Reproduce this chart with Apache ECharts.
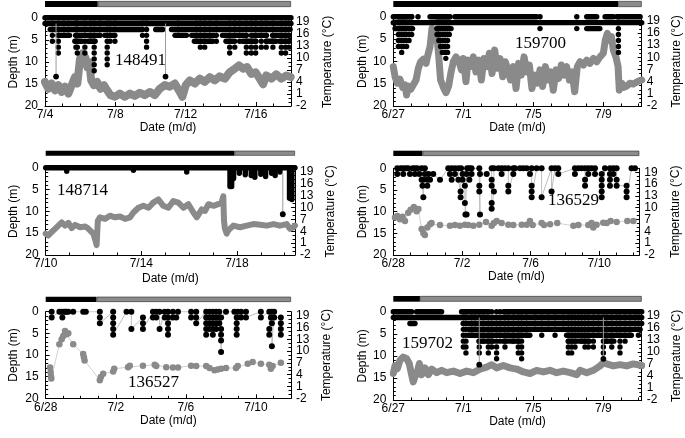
<!DOCTYPE html>
<html><head><meta charset="utf-8">
<script src="https://cdn.jsdelivr.net/npm/echarts@6/dist/echarts.min.js"></script>
<style>html,body{margin:0;padding:0;background:#fff}#c{width:685px;height:438px}</style>
</head><body><div id="c"></div>
<script>
// ---------- DATA (x = days since panel start date, depth in m, temperature in °C) ----------
const TAG_IDS = ['148491','159700','148714','136529','136527','159702'];
const START_DATES = [[7,4],[6,27],[7,10],[6,28],[6,28],[6,27]];
const X_MAX = [14, 14.19, 10.43, 14.33, 14, 14.19];
const DARK_DAYS = [3.0, 12.84, 7.9, 1.7, 2.9, 1.52]; // length of black part of top bar
const DEPTH_STEP = 1.333; // depth resolution of the tags

// Panel 1 – 148491
const P1_TEMP = [[0,4.0],[0.19,2.3],[0.38,3.6],[0.57,1.9],[0.76,3.2],[0.95,1.5],[1.14,2.8],[1.33,1.1],[1.52,3.2],[1.70,5.2],[1.84,3.6],[1.99,9.7],[2.14,11.1],[2.29,10.1],[2.41,7.7],[2.52,8.9],[2.63,4.4],[2.78,3.2],[2.97,4.0],[3.16,2.3],[3.35,3.2],[3.54,1.9],[3.73,0.7],[3.98,0.3],[4.26,1.1],[4.55,0.3],[4.83,1.1],[5.11,0.5],[5.40,1.3],[5.68,0.7],[5.97,1.5],[6.25,0.7],[6.53,2.3],[6.82,3.2],[7.10,2.8],[7.39,3.6],[7.67,1.5],[7.82,0.3],[8.01,3.2],[8.24,4.4],[8.52,3.6],[8.81,4.8],[9.09,4.0],[9.38,5.2],[9.66,4.4],[9.94,5.4],[10.23,4.8],[10.51,6.4],[10.80,7.3],[11.04,8.1],[11.27,7.3],[11.50,7.7],[11.74,6.0],[11.99,6.4],[12.22,4.8],[12.41,3.4],[12.59,5.6],[12.88,4.8],[13.16,5.9],[13.45,4.8],[13.73,5.6],[13.98,5.2]];
const P1_ROWS = [[0,14,0],[0,14,1.33],[0.3,5.5,2.67],[6.3,6.7,2.67],[7.2,13.95,2.67],[0.75,1.4,4],[1.75,2.35,4],[2.45,3.1,4],[3.4,3.9,4],[7.4,8.05,4],[8.35,9.65,4],[10.1,11.45,4],[11.85,12.6,4],[12.95,13.9,4],[1.7,2.1,5.33],[2.45,2.85,5.33],[8.5,9.55,5.33],[10.3,10.7,5.33],[11.25,12.0,5.33],[12.6,13.15,5.33],[13.35,13.9,5.33]];
const P1_COLS = [[0.42,5.33],[0.76,8],[1.08,4],[1.33,4],[1.76,6.67],[1.84,8],[2.27,8],[2.6,5.33],[2.8,12],[3.13,4],[3.54,10.67],[3.7,5.33],[3.98,5.33],[5.55,4],[5.78,6.67],[7.58,4],[8.62,5.33],[8.84,6.67],[9.09,6.67],[9.38,5.33],[9.75,5.33],[10.51,8],[10.8,6.67],[11.08,5.33],[11.46,8],[11.74,8],[11.99,8],[12.31,6.67],[12.59,6.67],[12.97,6.67],[13.45,8],[13.69,8],[13.88,6.67]];
const P1_SPIKES = [[0.63,13.33],[6.86,13.33]];

// Panel 2 – 159700
const P2_TEMP = [[0,7.7],[0.1,5.2],[0.23,3.6],[0.38,4.6],[0.53,2.6],[0.67,3.2],[0.76,0.7],[0.86,2.9],[0.99,2.1],[1.14,3.2],[1.3,4.4],[1.43,7.3],[1.56,8.9],[1.71,9.5],[1.87,8.5],[2.0,11.0],[2.1,12.6],[2.21,17.1],[2.34,14.9],[2.48,15.9],[2.59,10.6],[2.7,4.4],[2.86,2.6],[3.01,1.3],[3.16,2.9],[3.3,6.4],[3.43,8.9],[3.58,10.1],[3.73,9.3],[3.89,6.9],[4.0,9.7],[4.15,4.0],[4.27,9.3],[4.42,7.7],[4.57,10.1],[4.72,6.4],[4.88,9.3],[5.03,4.4],[5.18,9.7],[5.33,7.7],[5.49,11.0],[5.64,6.0],[5.79,11.8],[5.94,7.3],[6.1,9.7],[6.25,5.2],[6.4,8.9],[6.55,6.9],[6.7,4.4],[6.86,7.7],[7.01,2.3],[7.16,8.5],[7.31,5.6],[7.47,10.1],[7.62,6.4],[7.77,8.1],[7.92,2.3],[8.08,5.6],[8.23,3.6],[8.38,6.9],[8.53,2.8],[8.69,7.7],[8.84,4.4],[8.99,6.4],[9.14,1.9],[9.3,6.9],[9.45,4.8],[9.6,8.1],[9.75,5.6],[9.9,7.7],[10.06,4.4],[10.21,6.4],[10.36,1.5],[10.51,7.7],[10.67,8.9],[10.86,8.1],[11.05,9.3],[11.24,8.5],[11.43,9.7],[11.62,8.9],[11.81,10.1],[12.0,11.0],[12.11,14.2],[12.23,15.9],[12.34,14.2],[12.46,15.1],[12.57,11.8],[12.72,10.1],[12.84,7.7],[12.91,1.9],[13.05,3.6],[13.18,2.6],[13.33,2.9],[13.52,3.6],[13.71,3.4],[13.94,4.0],[14.19,4.4]];
const P2_ROWS = [[0,1.05,0],[1.41,1.41,0],[2.1,3.24,0],[3.52,8.19,0],[8.38,8.38,0],[10.48,10.48,0],[11.05,11.62,0],[12.1,12.57,0],[12.76,14.1,0],[0,14.19,1.33],[0.1,1.1,2.67],[2.5,3.3,2.67],[8.38,8.38,2.67],[10.48,10.48,2.67],[11.05,11.8,2.67]];
const P2_COLS = [[0.29,6.67],[0.38,5.33],[0.48,8],[0.57,6.67],[0.67,5.33],[0.76,6.67],[0.9,5.33],[1.05,4],[2.5,4],[2.6,5.33],[2.7,6.67],[2.8,8],[2.9,8],[3.0,9.33],[3.1,8],[3.2,4],[12.86,8]];
const P2_SPIKES = [];

// Panel 3 – 148714
const P3_TEMP = [[0,3.4],[0.11,2.9],[0.25,3.8],[0.39,4.6],[0.53,5.4],[0.67,6.2],[0.81,5.4],[0.95,6.1],[1.09,4.8],[1.23,5.6],[1.44,5.0],[1.65,5.2],[1.79,4.6],[1.85,4.2],[1.99,3.4],[2.08,1.7],[2.13,0.5],[2.18,6.6],[2.27,7.5],[2.48,7.1],[2.69,7.9],[2.9,7.5],[3.11,7.7],[3.32,7.1],[3.53,7.5],[3.67,8.7],[3.88,9.9],[4.09,10.4],[4.3,9.9],[4.5,11.2],[4.71,12.0],[4.92,10.4],[5.13,9.9],[5.34,11.6],[5.55,11.2],[5.76,9.9],[5.97,10.8],[6.18,8.7],[6.32,7.5],[6.39,7.1],[6.53,9.5],[6.67,9.1],[6.81,10.8],[7.02,10.4],[7.22,10.8],[7.36,11.2],[7.43,12.8],[7.46,6.6],[7.5,4.6],[7.57,3.4],[7.64,4.2],[7.85,5.4],[8.13,5.0],[8.41,5.4],[8.69,5.8],[8.97,5.6],[9.25,5.4],[9.53,5.8],[9.8,5.4],[10.08,5.8],[10.22,4.6],[10.36,5.0],[10.43,5.4]];
const P3_ROWS = [[0,10.43,0]];
const P3_COLS = [[0.88,0.8],[3.67,0.6],[5.9,1.0],[7.71,4.3],[7.78,4.3],[7.86,2.5],[8.1,1.3],[8.35,1.6],[8.6,1.8],[8.75,2.2],[9.0,1.5],[9.2,2.0],[9.45,1.3],[9.6,1.8],[9.8,1.0],[10.2,7.0],[10.3,7.3]];
const P3_SPIKES = [[9.92,10.67]];

// Panel 4 – 136529 (individual samples)
const P4_TEMP = [[0.1,7.5],[0.23,7.9],[0.39,7.1],[0.54,7.7],[0.68,6.6],[0.87,8.7],[1.01,9.5],[1.2,10.2],[1.36,9.1],[1.46,9.7],[1.65,4.6],[1.75,3.6],[1.84,3.1],[1.98,5.0],[2.14,5.8],[2.23,6.1],[2.72,5.6],[3.3,5.4],[3.59,5.6],[3.88,5.4],[4.17,5.7],[4.37,5.6],[4.66,5.4],[5.01,5.7],[5.4,6.4],[5.73,5.4],[5.86,6.1],[6.02,6.6],[6.31,6.1],[6.7,5.7],[6.99,5.6],[7.48,5.7],[7.77,5.7],[7.96,6.6],[8.12,5.6],[8.64,6.1],[8.78,5.6],[9.13,5.8],[9.55,6.1],[10.49,5.4],[10.78,5.6],[11.36,5.6],[11.55,6.1],[11.65,5.0],[11.84,5.7],[12.23,6.2],[12.43,6.1],[12.66,6.6],[13.01,6.4],[13.63,6.6],[13.98,6.6]];
const P4_DEPTH = [[0.23,0],[0.23,1.33],[0.43,0],[0.58,0],[0.58,1.33],[0.74,0],[0.87,0],[0.97,1.33],[1.13,0],[1.26,0],[1.26,1.33],[1.4,0],[1.51,1.33],[1.65,0],[1.65,2.67],[1.7,4],[1.75,6.67],[1.75,2.67],[1.84,1.33],[1.84,0],[1.98,2.67],[1.98,4],[2.05,1.33],[2.14,2.67],[2.33,1.33],[2.72,2.67],[3.2,0],[3.3,1.33],[3.4,0],[3.4,2.67],[3.59,0],[3.59,1.33],[3.79,0],[3.79,2.67],[3.92,5.33],[3.92,6.67],[3.95,0],[4.04,1.33],[4.04,2.67],[4.17,4],[4.17,8],[4.2,10.67],[4.27,10.67],[4.27,1.33],[4.3,0],[4.43,2.67],[4.43,0],[4.56,1.33],[4.56,0],[5.01,0],[5.01,4],[5.01,5.33],[5.05,10.67],[5.05,1.33],[5.44,1.33],[5.73,0],[5.73,2.67],[5.73,4],[5.73,8],[5.73,9.33],[5.86,5.33],[5.86,0],[6.12,0],[6.31,1.33],[6.31,0],[6.5,0],[6.7,0],[6.7,4],[6.7,5.33],[6.99,1.33],[6.99,0],[7.09,0],[7.38,0],[7.57,0],[7.77,0],[7.96,1.33],[8.06,0],[8.06,4],[8.06,5.33],[8.06,6.67],[8.35,0],[8.64,0],[8.64,6.67],[9.22,0],[9.22,5.33],[9.42,0],[9.61,0],[9.61,1.33],[10.58,0],[10.58,1.33],[10.78,0],[10.97,0],[11.17,0],[11.17,2.67],[11.17,4],[11.36,1.33],[11.36,0],[11.55,0],[11.75,0],[11.75,1.33],[12.14,1.33],[12.14,2.67],[12.14,4],[12.14,5.33],[12.14,6.67],[12.33,0],[12.62,0],[12.62,1.33],[12.62,2.67],[12.62,4],[12.82,0],[12.82,1.33],[13.01,0],[13.01,2.67],[13.01,4],[13.59,4],[13.59,5.33],[13.59,6.67],[13.88,0],[14.08,0]];

// Panel 5 – 136527 (individual samples)
const P5_TEMP = [[0.25,5.8],[0.28,4.6],[0.3,3.6],[0.32,3.0],[0.78,11.75],[0.91,13.0],[1.0,13.8],[1.1,15.1],[1.19,14.25],[1.29,14.5],[1.57,11.75],[2.14,9.25],[2.18,8.4],[2.22,7.6],[3.09,2.6],[3.15,3.4],[3.28,4.25],[3.85,4.8],[3.91,5.5],[4.7,5.9],[4.8,6.3],[5.55,6.3],[6.22,6.5],[6.31,6.2],[6.88,5.9],[7.26,5.8],[7.55,5.8],[8.3,6.3],[8.59,6.2],[9.16,6.2],[9.35,5.7],[9.63,5.1],[9.82,5.3],[10.01,5.5],[10.29,5.7],[10.86,5.7],[10.96,6.2],[11.53,6.75],[11.81,7.2],[12.28,6.75],[12.76,6.5],[12.85,5.5],[12.95,6.2],[13.42,7.0]];
const P5_DEPTH = [[0.34,0],[0.34,1.33],[0.78,0],[0.91,0],[0.95,1.33],[1.04,0],[1.12,0],[1.19,0],[1.29,0],[1.57,0],[2.14,0],[2.29,0],[3.09,0],[3.09,1.33],[3.09,2.67],[3.85,0],[3.85,1.33],[3.85,2.67],[3.85,4],[3.85,5.33],[4.61,0],[4.89,0],[4.89,4],[5.55,1.33],[5.55,2.67],[5.55,4],[6.12,0],[6.12,1.33],[6.31,0],[6.31,1.33],[6.5,0],[6.5,4],[6.79,0],[6.79,1.33],[6.98,0],[6.98,1.33],[6.98,2.67],[6.98,4],[6.98,5.33],[7.26,0],[7.26,1.33],[7.45,1.33],[7.55,0],[8.3,0],[8.3,1.33],[8.59,0],[8.59,1.33],[8.59,2.67],[9.16,0],[9.16,1.33],[9.16,2.67],[9.16,4],[9.16,5.33],[9.35,0],[9.35,1.33],[9.35,2.67],[9.35,4],[9.54,0],[9.54,1.33],[9.54,2.67],[9.54,4],[9.54,5.33],[9.73,0],[9.73,1.33],[9.73,2.67],[9.73,4],[9.91,0],[9.91,1.33],[9.91,2.67],[10.01,4],[10.01,5.33],[10.01,6.67],[10.01,9.33],[10.01,1.33],[10.29,0],[10.77,0],[10.9,1.33],[10.9,2.67],[10.9,4],[10.9,5.33],[10.96,0],[11.15,0],[11.15,1.33],[11.43,0],[11.43,1.33],[12.28,0],[12.28,1.33],[12.76,0],[12.76,4],[12.76,5.33],[12.85,1.33],[12.91,0],[12.91,2.67],[12.91,8],[13.04,0],[13.04,1.33],[13.42,1.33],[13.42,2.67],[13.42,4],[13.42,5.33]];

// Panel 6 – 159702
const P6_TEMP = [[0,4.6],[0.1,6.6],[0.23,5.8],[0.38,7.9],[0.57,8.7],[0.76,8.3],[0.91,7.1],[1.05,4.2],[1.14,2.5],[1.24,3.8],[1.37,5.0],[1.49,7.1],[1.62,4.3],[1.81,6.0],[2.0,4.3],[2.19,5.7],[2.48,4.8],[2.76,5.4],[3.05,4.8],[3.43,5.2],[3.81,4.6],[4.19,5.2],[4.57,4.8],[4.95,5.7],[5.33,6.2],[5.62,6.8],[5.9,6.0],[6.29,6.6],[6.67,6.0],[7.05,5.7],[7.43,5.0],[7.81,4.6],[8.19,5.4],[8.57,5.0],[8.95,5.4],[9.33,4.8],[9.71,5.2],[10.1,4.8],[10.48,4.3],[10.67,5.4],[11.05,4.8],[11.43,5.4],[11.81,6.5],[12.0,7.3],[12.19,7.0],[12.57,6.5],[12.95,6.8],[13.33,6.5],[13.71,7.0],[14.19,6.6]];
const P6_ROWS = [[0,1.05,0],[1.33,1.9,0],[2.0,2.76,0],[3.9,5.43,0],[6.3,14.19,0],[0,14.19,1.33],[0.95,1.24,2.67],[4.0,14.19,2.67],[4.3,14.1,4],[4.3,7.8,5.33],[9.9,13.6,5.33],[4.9,5.7,6.67],[6.3,7.2,6.67],[10.0,11.2,6.67],[12.1,12.6,6.67]];
const P6_COLS = [[4.0,8],[4.15,9.33],[4.48,5.33],[4.67,4],[4.91,9.33],[5.14,6.67],[5.43,9.33],[5.62,8],[5.9,10.67],[6.1,6.67],[6.38,8],[6.57,5.33],[6.86,6.67],[7.14,9.33],[7.33,10.67],[7.62,5.33],[8.1,4],[8.48,5.33],[8.86,4],[9.24,5.33],[9.71,4],[10.0,9.33],[10.19,9.33],[10.38,8],[10.57,5.33],[10.76,6.67],[10.95,8],[11.14,8],[11.43,8],[11.71,5.33],[12.0,9.33],[12.19,6.67],[12.48,8],[12.76,5.33],[12.95,9.33],[13.24,6.67],[13.52,5.33],[13.81,4],[14.0,5.33]];
const P6_SPIKES = [[4.91,12],[12.0,10.67]];

const DEPTH_TICKS = {min:0, max:20, interval:5};
const TEMP_TICKS = {min:-2, top:20, interval:3};

// ---------- LAYOUT / STYLE ----------
const LAYOUT = [
  {grid:[45,17.7,246,88.3], bar:[1,6], label:[140,62], gapY:25, gapT:31, gapX:15, tw:8, beads:true},
  {grid:[393.3,16.7,248.4,89.3], bar:[1,6], label:[540,45], gapY:25, gapT:29, gapX:14, tw:7, beads:true},
  {grid:[45.7,167.7,249.3,87.3], bar:[150.7,5], label:[82,192], gapY:26, gapT:30, gapX:18, tw:6, beads:false},
  {grid:[393.3,168.3,246,86.7], bar:[150.7,5.3], label:[573,202], gapY:25, gapT:30, gapX:9, tw:0},
  {grid:[45.7,311.7,245.3,86.6], bar:[296.7,5.3], label:[153,384], gapY:26, gapT:30, gapX:11, tw:0},
  {grid:[393.3,311.7,248.4,88.3], bar:[296,5.7], label:[427,345], gapY:25, gapT:29, gapX:13, tw:7, beads:true},
];
const DENSE = [
  {temp:P1_TEMP, rows:P1_ROWS, cols:P1_COLS, spikes:P1_SPIKES},
  {temp:P2_TEMP, rows:P2_ROWS, cols:P2_COLS, spikes:P2_SPIKES},
  {temp:P3_TEMP, rows:P3_ROWS, cols:P3_COLS, spikes:P3_SPIKES},
  null,
  null,
  {temp:P6_TEMP, rows:P6_ROWS, cols:P6_COLS, spikes:P6_SPIKES},
];
const SPARSE = [null,null,null,{temp:P4_TEMP, depth:P4_DEPTH},{temp:P5_TEMP, depth:P5_DEPTH},null];

const FONT = 'Liberation Sans, Arial, sans-serif';
const TEMP_GRAY = '#8a8a8a';
const DOT = 5.4;

function segRender(width, color){
  return function(params, api){
    const p0 = api.coord([api.value(0), api.value(1)]);
    const p1 = api.coord([api.value(2), api.value(3)]);
    let x2 = p1[0], y2 = p1[1];
    if (Math.abs(x2-p0[0])<0.01 && Math.abs(y2-p0[1])<0.01) x2 += 0.05;
    return {type:'line', shape:{x1:p0[0], y1:p0[1], x2:x2, y2:y2},
      style:{stroke:color, lineWidth:width, lineCap:'round'}};
  };
}
// vertical column of samples at every depth step, drawn as beads
function beadRender(params, api){
  const p0 = api.coord([api.value(0), 0]);
  const p1 = api.coord([api.value(0), api.value(1)]);
  const step = Math.abs(api.size([0, DEPTH_STEP])[1]);
  return {type:'line', shape:{x1:p0[0], y1:p0[1], x2:p1[0], y2:p1[1]+0.6},
    style:{stroke:'#000', lineWidth:DOT, lineCap:'round', lineDash:[0.01, step-0.01]}};
}
function spikeRender(params, api){
  const p0 = api.coord([api.value(0), 1.33]);
  const p1 = api.coord([api.value(0), api.value(1)]);
  return {type:'group', children:[
    {type:'line', shape:{x1:p0[0],y1:p0[1],x2:p1[0],y2:p1[1]}, style:{stroke:'#9a9a9a', lineWidth:1}},
    {type:'circle', shape:{cx:p1[0], cy:p1[1], r:2.9}, style:{fill:'#000'}}
  ]};
}

const grids=[], xAxes=[], yAxes=[], series=[], graphics=[];
for (let i=0;i<6;i++){
  const L = LAYOUT[i];
  const [sm, sd] = START_DATES[i];
  const xmax = X_MAX[i];
  const gi = grids.length;
  grids.push({left:L.grid[0], top:L.grid[1], width:L.grid[2], height:L.grid[3], containLabel:false});
  grids.push({left:L.grid[0], top:L.bar[0], width:L.grid[2], height:L.bar[1], containLabel:false});
  const xi = xAxes.length;
  xAxes.push({type:'value', gridIndex:gi, min:0, max:xmax, interval:4,
    name:'Date (m/d)', nameLocation:'middle', nameGap:L.gapX,
    nameTextStyle:{fontFamily:FONT, fontSize:12, color:'#000', verticalAlign:'top'},
    axisLine:{show:true, onZero:false, lineStyle:{color:'#000', width:1}},
    axisTick:{show:true, inside:true, length:4, lineStyle:{color:'#000'}},
    minorTick:{show:true, splitNumber:4, length:2.5, lineStyle:{color:'#000'}},
    splitLine:{show:false},
    axisLabel:{fontFamily:FONT, fontSize:12, color:'#000', margin:3, showMaxLabel:false,
      formatter:function(v){ const d=new Date(2010, sm-1, sd+Math.round(v)); return (d.getMonth()+1)+'/'+d.getDate(); }}
  });
  xAxes.push({type:'value', gridIndex:gi+1, min:0, max:xmax, show:false});
  const yi = yAxes.length;
  yAxes.push({type:'value', gridIndex:gi, inverse:true, min:DEPTH_TICKS.min, max:DEPTH_TICKS.max, interval:DEPTH_TICKS.interval, position:'left',
    name:'Depth (m)', nameLocation:'middle', nameGap:L.gapY, nameRotate:90,
    nameTextStyle:{fontFamily:FONT, fontSize:12, color:'#000'},
    axisLine:{show:true, lineStyle:{color:'#000', width:1}},
    axisTick:{show:true, inside:true, length:4, lineStyle:{color:'#000'}},
    minorTick:{show:true, splitNumber:5, length:2.5, lineStyle:{color:'#000'}},
    splitLine:{show:false},
    axisLabel:{fontFamily:FONT, fontSize:12, color:'#000', margin:7}
  });
  // temperature axis: plotted as (t - min) so that tick counting starts at the axis minimum
  const tOff = TEMP_TICKS.min;
  yAxes.push({type:'value', gridIndex:gi, min:0, max:TEMP_TICKS.top - tOff, interval:TEMP_TICKS.interval, position:'right',
    name:'Temperature (°C)', nameLocation:'middle', nameGap:L.gapT, nameRotate:90,
    nameTextStyle:{fontFamily:FONT, fontSize:12, color:'#000'},
    axisLine:{show:true, lineStyle:{color:'#000', width:1}},
    axisTick:{show:true, inside:true, length:4, lineStyle:{color:'#000'}},
    minorTick:{show:true, splitNumber:3, length:2.5, lineStyle:{color:'#000'}},
    splitLine:{show:false},
    axisLabel:{fontFamily:FONT, fontSize:12, color:'#000', margin:5, showMaxLabel:false,
      formatter:function(v){ return String(Math.round(v + tOff)); }}
  });
  yAxes.push({type:'category', gridIndex:gi+1, data:['bar'], show:false});

  // top bar
  series.push({type:'bar', xAxisIndex:xi+1, yAxisIndex:yi+2, stack:'bar'+i, barWidth:'100%',
    data:[DARK_DAYS[i]], itemStyle:{color:'#000'}, silent:true});
  series.push({type:'bar', xAxisIndex:xi+1, yAxisIndex:yi+2, stack:'bar'+i, barWidth:'100%',
    data:[xmax - DARK_DAYS[i]], itemStyle:{color:'#8c8c8c', borderColor:'#3a3a3a', borderWidth:0.7}, silent:true});

  const D = DENSE[i], S = SPARSE[i];
  if (D){
    series.push({type:'line', xAxisIndex:xi, yAxisIndex:yi+1, z:2,
      data:D.temp.map(p=>[p[0], p[1]-tOff]), symbol:'none',
      lineStyle:{color:TEMP_GRAY, width:L.tw, join:'round', cap:'round'}});
    series.push({type:'custom', xAxisIndex:xi, yAxisIndex:yi, z:3,
      renderItem:segRender(DOT, '#000'), data:D.rows.map(r=>[r[0], r[2], r[1], r[2]]),
      encode:{x:[0,2], y:[1,3]}});
    if (L.beads){
      series.push({type:'custom', xAxisIndex:xi, yAxisIndex:yi, z:3,
        renderItem:beadRender, data:D.cols, encode:{x:0, y:1}});
    } else {
      series.push({type:'custom', xAxisIndex:xi, yAxisIndex:yi, z:3,
        renderItem:segRender(DOT, '#000'), data:D.cols.map(c=>[c[0],0,c[0],c[1]]), encode:{x:[0,2], y:[1,3]}});
    }
    if (D.spikes.length) series.push({type:'custom', xAxisIndex:xi, yAxisIndex:yi, z:3,
      renderItem:spikeRender, data:D.spikes, encode:{x:0, y:1}});
  }
  if (S){
    series.push({type:'line', xAxisIndex:xi, yAxisIndex:yi+1, z:2,
      data:S.temp.map(p=>[p[0], p[1]-tOff]), symbol:'circle', symbolSize:6.5,
      itemStyle:{color:TEMP_GRAY}, lineStyle:{color:'#d0d0d0', width:1}});
    series.push({type:'line', xAxisIndex:xi, yAxisIndex:yi, z:3,
      data:S.depth, symbol:'circle', symbolSize:6,
      itemStyle:{color:'#000'}, lineStyle:{color:'#bdbdbd', width:1}});
  }
  graphics.push({type:'text', left:L.label[0]-25, top:L.label[1]-10, z:10,
    style:{text:TAG_IDS[i], font:'17px "Liberation Serif", "Times New Roman", serif', fill:'#000'}});
}

const chart = echarts.init(document.getElementById('c'), null, {renderer:'canvas'});
chart.setOption({animation:false, backgroundColor:'#fff', textStyle:{fontFamily:FONT},
  grid:grids, xAxis:xAxes, yAxis:yAxes, series:series, graphic:graphics});
</script></body></html>
